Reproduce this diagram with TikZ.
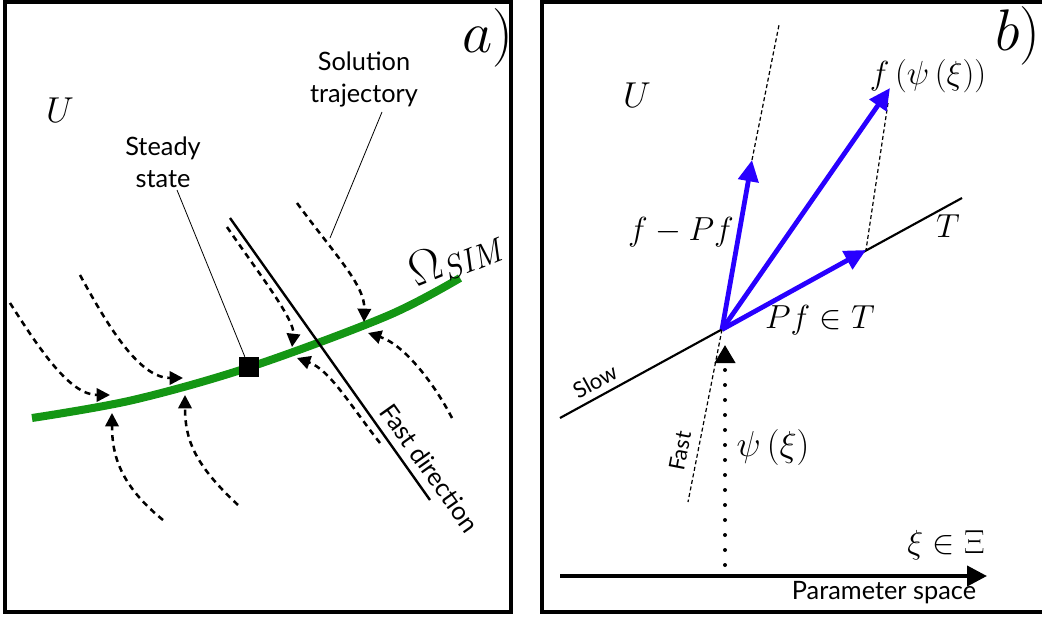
\RequirePackage{fix-cm}
\documentclass[tikz,border=0pt]{standalone}
\usepackage{fontspec}
\setsansfont{Lato}
\usetikzlibrary{arrows.meta}
\definecolor{simgreen}{RGB}{20,150,20}
\definecolor{vecblue}{RGB}{40,0,255}
\begin{document}
\begin{tikzpicture}[x=0.75pt,y=-0.75pt,
  frame/.style={line width=2.3pt},
  lbl/.style={font=\sffamily\fontsize{19}{24}\selectfont, align=center, inner sep=0pt},
  smalllbl/.style={font=\sffamily\fontsize{16.5}{18}\selectfont, inner sep=0pt},
  mathlbl/.style={font=\fontsize{25}{30}\selectfont, inner sep=0pt},
  panellbl/.style={font=\fontsize{44}{50}\selectfont, inner sep=0pt},
  traj/.style={line width=1.9pt, dash pattern=on 4.5pt off 3.5pt, -{Triangle[length=10pt,width=10pt]}},
  leader/.style={line width=0.6pt},
  thindash/.style={line width=0.9pt, dash pattern=on 3pt off 2pt},
  vec/.style={vecblue, line width=3.6pt, -{Triangle[length=16pt,width=15pt]}},
  solidline/.style={line width=1.8pt},
]
\useasboundingbox (0,0) rectangle (1042,617);
\clip (0,0) rectangle (1042,617);

% ---------------- panel a ----------------
\draw[frame] (5,2) rectangle (511,612);
\node[panellbl] (pa) at (488,38) {$a)$};
\node[mathlbl, font=\fontsize{27}{30}\selectfont] (ua) at (60,110) {$U$};
\node[lbl] (soltxt) at (364,79) {Solution\\trajectory};
\node[lbl] (sstxt) at (163,162) {Steady\\state};

% green slow invariant manifold
\draw[simgreen, line width=6pt] plot[smooth, tension=0.55] coordinates {(32,418) (133,400) (250,367) (387,316) (460,278)};
\node[inner sep=0pt, rotate=22, font=\fontsize{36}{40}\selectfont] (om) at (455,258) {$\Omega_{\mathit{SIM}}$};

% fast direction line
\coordinate (fa) at (230,218);
\coordinate (fb) at (430,500);
\draw[solidline] (fa) -- (fb);
\node[lbl, rotate=-54.6] (fdtxt) at (430,468) {Fast direction};

% trajectories
\coordinate (t1a) at (10,303);  \coordinate (t1b) at (110,395);
\coordinate (t2a) at (80,275);  \coordinate (t2b) at (183,378);
\coordinate (t3a) at (297,203); \coordinate (t3b) at (364,322);
\coordinate (t4a) at (227,227); \coordinate (t4b) at (292,347);
\coordinate (t5a) at (452,418); \coordinate (t5b) at (368,333);
\coordinate (t6a) at (380,443); \coordinate (t6b) at (297,358);
\coordinate (t7a) at (163,520); \coordinate (t7b) at (112,413);
\coordinate (t8a) at (238,505); \coordinate (t8b) at (185,395);
\draw[traj] (t1a) .. controls (40,350) and (70,395) .. (t1b);
\draw[traj] (t2a) .. controls (110,330) and (140,378) .. (t2b);
\draw[traj] (t3a) .. controls (335,255) and (365,285) .. (t3b);
\draw[traj] (t4a) .. controls (260,275) and (295,320) .. (t4b);
\draw[traj] (t5a) .. controls (435,385) and (405,345) .. (t5b);
\draw[traj] (t6a) .. controls (350,405) and (330,370) .. (t6b);
\draw[traj] (t7a) .. controls (120,485) and (112,455) .. (t7b);
\draw[traj] (t8a) .. controls (195,465) and (185,440) .. (t8b);

% steady state
\node[fill=black, minimum size=15pt, inner sep=0pt] (sq) at (249,367) {};
\coordinate (ssl) at (177,190);
\draw[leader] (ssl) -- (sq);
\coordinate (sol1) at (382,112);
\coordinate (sol2) at (330,238);
\draw[leader] (sol1) -- (sol2);

% ---------------- panel b ----------------
\draw[frame] (1046,2) -- (542,2) -- (542,612) -- (1046,612);
\node[panellbl] (pb) at (1018,36) {$b)$};
\node[mathlbl, font=\fontsize{27}{30}\selectfont] (ub) at (637,95) {$U$};

\coordinate (tl) at (560,418);
\coordinate (tr) at (962,198);
\coordinate (O) at (722,329.5);
\draw[solidline, line width=1.6pt] (tl) -- (tr);
\node[smalllbl, rotate=28.7] (slow) at (595,381) {Slow};
\node[mathlbl] (tlab) at (948,226) {$T$};

\coordinate (fpf) at (752,160);
\coordinate (fpsi) at (890,88);
\coordinate (pf) at (866,250);
\coordinate (top1) at (779,25);
\coordinate (dpsi) at (888,103);
\coordinate (fastend) at (688,502);

\draw[thindash] (fpf) -- (top1);
\draw[thindash] (dpsi) -- (pf);
\draw[thindash] (O) -- (fastend);
\node[smalllbl, rotate=79] (fast) at (680,451) {Fast};

\draw[vec] (O) -- (fpf);
\draw[vec] (O) -- (fpsi);
\draw[vec] (O) -- (pf);

\node[mathlbl] (fpflab) at (681,232) {$f-Pf$};
\node[mathlbl] (fpsilab) at (928,76) {$f\left(\psi\left(\xi\right)\right)$};
\node[mathlbl] (pflab) at (820,320) {$Pf\in T$};

% parameter axis
\coordinate (ax1) at (560,576);
\coordinate (ax2) at (987,576);
\draw[line width=3pt, -{Triangle[length=15pt,width=15pt]}] (ax1) -- (ax2);
\node[mathlbl] (xilab) at (946,545) {$\xi\in\Xi$};
\node[lbl] (ptxt) at (884,593) {Parameter space};

% psi map
\coordinate (dbot) at (725,565);
\coordinate (dtop) at (725,345);
\draw[line width=3pt, line cap=round, dash pattern=on 0pt off 11.25pt, -{Triangle[length=13.5pt,width=15pt]}] (dbot) -- (dtop);
\node[mathlbl, font=\fontsize{27}{30}\selectfont] (psilab) at (773,447) {$\psi\left(\xi\right)$};
\end{tikzpicture}
\end{document}
